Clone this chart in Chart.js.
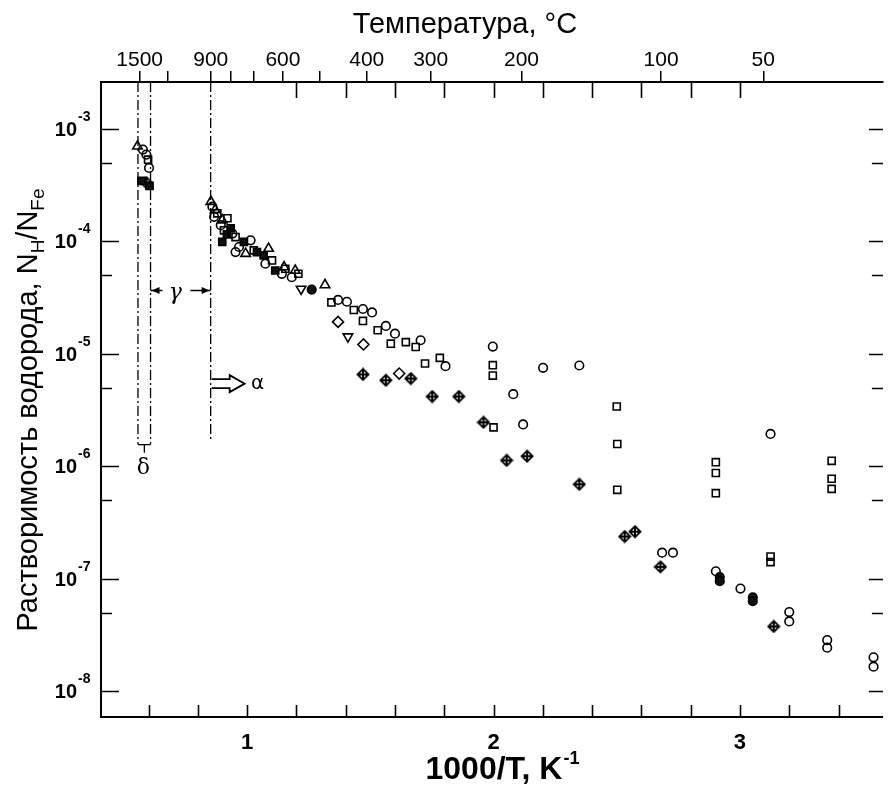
<!DOCTYPE html>
<html>
<head>
<meta charset="utf-8">
<script src="https://cdn.jsdelivr.net/npm/chart.js@4.4.1/dist/chart.umd.min.js"></script>
<style>
  html, body { margin: 0; padding: 0; background: #fff; }
  canvas { display: block; }
</style>
</head>
<body>
<canvas id="chart" width="890" height="785"></canvas>
<script>
// x = 1000/T (K^-1), y = N_H/N_Fe
const openCirclesX = [0.577, 0.591, 0.602, 0.859, 0.866, 0.893, 0.940, 0.967, 1.014, 0.953, 1.074, 1.141, 1.181,
  1.369, 1.405, 1.470, 1.507, 1.563, 1.600, 1.704, 1.805, 1.997, 2.201, 2.348, 2.080, 2.120, 2.684, 2.728,
  3.124, 2.902, 3.002, 3.200, 3.200, 3.354, 3.354, 3.542, 3.542];
const openCirclesY = [6.53e-4, 5.89e-4, 4.48e-4, 2.03e-4, 1.65e-4, 1.39e-4, 1.17e-4, 8.89e-5, 1.02e-4, 8.02e-5, 6.31e-5, 5.14e-5, 4.79e-5,
  3.01e-5, 2.90e-5, 2.50e-5, 2.33e-5, 1.77e-5, 1.51e-5, 1.32e-5, 7.76e-6, 1.16e-5, 7.50e-6, 7.87e-6, 4.38e-6, 2.36e-6, 1.71e-7, 1.71e-7,
  1.94e-6, 1.17e-7, 8.2e-8, 5.07e-8, 4.19e-8, 2.86e-8, 2.45e-8, 2.01e-8, 1.66e-8];

const openSquaresX = [0.598, 0.879, 0.920, 0.906, 0.953, 1.027, 1.101, 1.155, 1.208,
  1.342, 1.433, 1.470, 1.530, 1.583, 1.644, 1.684, 1.722, 1.782, 1.997, 1.997, 2.000,
  2.500, 2.502, 2.502, 2.902, 2.902, 2.902, 3.124, 3.124, 3.372, 3.372, 3.372];
const openSquaresY = [5.31e-4, 1.77e-4, 1.60e-4, 1.25e-4, 1.09e-4, 8.30e-5, 6.76e-5, 5.70e-5, 5.14e-5,
  2.86e-5, 2.45e-5, 1.96e-5, 1.62e-5, 1.23e-5, 1.27e-5, 1.15e-5, 8.2e-6, 9.2e-6, 7.93e-6, 6.41e-6, 2.22e-6,
  3.40e-6, 1.58e-6, 6.19e-7, 1.09e-6, 8.73e-7, 5.78e-7, 1.58e-7, 1.41e-7, 1.12e-6, 7.76e-7, 6.31e-7];

const filledSquaresX = [0.571, 0.604, 0.933, 0.899, 0.987, 1.067, 1.114, 0.918, 1.040];
const filledSquaresY = [3.44e-4, 3.10e-4, 1.30e-4, 9.86e-5, 9.86e-5, 7.49e-5, 5.50e-5, 1.15e-4, 8.0e-5];

const triUpX = [0.555, 0.853, 0.899, 0.994, 1.087, 1.195, 1.316, 0.870, 1.150];
const triUpY = [6.98e-4, 2.25e-4, 1.54e-4, 7.76e-5, 8.61e-5, 5.50e-5, 4.09e-5, 1.90e-4, 5.9e-5];

const triDownX = [1.219, 1.409];
const triDownY = [3.77e-5, 1.42e-5];

const openDiamondsX = [1.369, 1.472, 1.617];
const openDiamondsY = [1.92e-5, 1.21e-5, 6.68e-6];

const crossDiamondsX = [0.591, 1.470, 1.563, 1.664, 1.751, 1.859, 1.959, 2.053, 2.136, 2.348, 2.532, 2.574, 2.677, 3.137];
const crossDiamondsY = [3.32e-4, 6.55e-6, 5.82e-6, 6.03e-6, 4.17e-6, 4.17e-6, 2.46e-6, 1.13e-6, 1.23e-6, 6.92e-7, 2.38e-7, 2.63e-7, 1.28e-7, 3.78e-8];

const filledCirclesX = [1.262, 2.918, 2.918, 3.052, 3.052];
const filledCirclesY = [3.72e-5, 1.04e-7, 9.55e-8, 6.87e-8, 6.33e-8];

// phase boundaries: melting, delta/gamma, gamma/alpha
const phaseLineX = [0.557, 0.608, 0.852];
const phaseLineBottom = [1.56e-6, 1.56e-6, 1.69e-6];

// axes
const X_MIN = 0.407, X_MAX = 3.58;
const Y_MIN = 5.93e-9, Y_MAX = 2.6e-3;
const xBottomTicks = [0.6, 0.8, 1, 1.2, 1.4, 1.6, 1.8, 2, 2.2, 2.4, 2.6, 2.8, 3, 3.2, 3.4];
const xBottomLabels = ['', '', '1', '', '', '', '', '2', '', '', '', '', '3', '', ''];
const xTopInnerTicks = [1.2, 1.4, 1.6, 1.8, 2, 2.2, 2.4, 2.6, 2.8, 3];
const tempTicks = [1500, 1200, 900, 800, 700, 600, 500, 400, 300, 200, 100, 50];
const tempLabels = ['1500', '', '900', '', '', '600', '', '400', '300', '200', '100', '50'];
const yMajorTicks = [1e-8, 1e-7, 1e-6, 1e-5, 1e-4, 1e-3];
const yMajorExp = ['-8', '-7', '-6', '-5', '-4', '-3'];
const yMinorTicks = [5e-8, 5e-7, 5e-6, 5e-5, 5e-4];

// phase labels (data coords)
const gammaLabel = { x: 0.705, y: 3.7e-5 };
const alphaArrow = { x0: 0.852, x1: 0.990, y: 5.43e-6, labelX: 1.042 };
const deltaLabel = { x: 0.583, y: 1.0e-6, stubEnd: 1.32e-6 };

const FONT = '"Liberation Sans", Arial, sans-serif';

function pts(xs, ys) {
  return xs.map((x, i) => ({ x: x, y: ys[i] }));
}

// diamond with a cross inside
function crossDiamond() {
  const c = document.createElement('canvas');
  c.width = 14; c.height = 14;
  const g = c.getContext('2d');
  g.strokeStyle = '#000';
  g.lineWidth = 1.9;
  g.beginPath();
  g.moveTo(7, 1.5); g.lineTo(12.5, 7); g.lineTo(7, 12.5); g.lineTo(1.5, 7); g.closePath();
  g.moveTo(7, 1.5); g.lineTo(7, 12.5);
  g.moveTo(1.5, 7); g.lineTo(12.5, 7);
  g.stroke();
  return c;
}

function markers(label, xs, ys, style, extra) {
  return Object.assign({
    label: label,
    data: pts(xs, ys),
    pointStyle: style,
    pointRadius: 4.3,
    pointBorderWidth: 1.6,
    pointBorderColor: '#000',
    pointBackgroundColor: 'rgba(0,0,0,0)',
    showLine: false
  }, extra || {});
}

function guide(xs, ys, dash) {
  return {
    data: pts(xs, ys),
    showLine: true,
    pointRadius: 0,
    borderColor: '#000',
    borderWidth: 1.3,
    borderDash: dash,
    fill: false
  };
}

const datasets = [];
phaseLineX.forEach((px, i) => {
  datasets.push(guide([px, px], [Y_MAX, phaseLineBottom[i]], [10, 3, 2, 3]));
});
datasets.push(guide([phaseLineX[0], phaseLineX[1]], [phaseLineBottom[0], phaseLineBottom[1]], []));
datasets.push(guide([deltaLabel.x, deltaLabel.x], [phaseLineBottom[0], deltaLabel.stubEnd], []));

datasets.push(markers('circles', openCirclesX, openCirclesY, 'circle'));
datasets.push(markers('squares', openSquaresX, openSquaresY, 'rect', { pointRadius: 5 }));
datasets.push(markers('filled squares', filledSquaresX, filledSquaresY, 'rect', { pointRadius: 5, pointBackgroundColor: '#111' }));
datasets.push(markers('triangles', triUpX, triUpY, 'triangle', { pointRadius: 5.5 }));
datasets.push(markers('triangles down', triDownX, triDownY, 'triangle', { pointRadius: 5.5, pointRotation: 180 }));
datasets.push(markers('diamonds', openDiamondsX, openDiamondsY, 'rectRot', { pointRadius: 5.5 }));
datasets.push(markers('crossed diamonds', crossDiamondsX, crossDiamondsY, crossDiamond()));
datasets.push(markers('filled circles', filledCirclesX, filledCirclesY, 'circle', { pointBackgroundColor: '#111' }));

function arrowHead(ctx, x, y, dir) {
  ctx.beginPath();
  ctx.moveTo(x, y);
  ctx.lineTo(x - dir * 8, y - 3.5);
  ctx.lineTo(x - dir * 8, y + 3.5);
  ctx.closePath();
  ctx.fill();
}

const framePlugin = {
  id: 'frame',
  afterDraw(chart) {
    const { ctx, chartArea: a, scales } = chart;
    const x = scales.x, y = scales.y;
    ctx.save();
    ctx.strokeStyle = '#000';
    ctx.fillStyle = '#000';
    ctx.lineWidth = 1.6;

    // inward ticks
    ctx.beginPath();
    yMajorTicks.forEach(v => {
      const py = Math.round(y.getPixelForValue(v)) + 0.5;
      ctx.moveTo(a.left, py); ctx.lineTo(a.left + 18, py);
      ctx.moveTo(a.right, py); ctx.lineTo(a.right - 14, py);
    });
    yMinorTicks.forEach(v => {
      const py = Math.round(y.getPixelForValue(v)) + 0.5;
      ctx.moveTo(a.left, py); ctx.lineTo(a.left + 11, py);
      ctx.moveTo(a.right, py); ctx.lineTo(a.right - 11, py);
    });
    xBottomTicks.forEach(v => {
      const px = Math.round(x.getPixelForValue(v)) + 0.5;
      ctx.moveTo(px, a.bottom); ctx.lineTo(px, a.bottom - 12);
    });
    xTopInnerTicks.forEach(v => {
      const px = Math.round(x.getPixelForValue(v)) + 0.5;
      ctx.moveTo(px, a.top); ctx.lineTo(px, a.top + 16);
    });
    ctx.stroke();

    // y tick labels 10^n
    yMajorTicks.forEach((v, i) => {
      const py = y.getPixelForValue(v);
      ctx.font = 'bold 20px ' + FONT;
      ctx.textAlign = 'right';
      ctx.textBaseline = 'alphabetic';
      ctx.fillText('10', 77, py + 7);
      ctx.font = 'bold 14px ' + FONT;
      ctx.textAlign = 'left';
      ctx.fillText(yMajorExp[i], 78, py - 8);
    });

    // top title
    ctx.font = '29px ' + FONT;
    ctx.textAlign = 'center';
    ctx.fillText('Температура, °C', 465, 33);

    // bottom title with superscript
    ctx.font = 'bold 32px ' + FONT;
    const main = '1000/T, K';
    const mw = ctx.measureText(main).width;
    ctx.font = 'bold 18px ' + FONT;
    const sw = ctx.measureText('-1').width;
    const bx = 502 - (mw + sw) / 2;
    ctx.textAlign = 'left';
    ctx.font = 'bold 32px ' + FONT;
    ctx.fillText(main, bx, 779);
    ctx.font = 'bold 18px ' + FONT;
    ctx.fillText('-1', bx + mw + 1, 764);

    // y title, rotated, with subscripts
    const parts = [
      ['Растворимость водорода, N', 29, 0],
      ['H', 19, 7],
      ['/N', 29, 0],
      ['Fe', 19, 7]
    ];
    let total = 0;
    parts.forEach(p => { ctx.font = p[1] + 'px ' + FONT; total += ctx.measureText(p[0]).width; });
    ctx.save();
    ctx.translate(37, 410);
    ctx.rotate(-Math.PI / 2);
    let cx = -total / 2;
    parts.forEach(p => {
      ctx.font = p[1] + 'px ' + FONT;
      ctx.fillText(p[0], cx, p[2]);
      cx += ctx.measureText(p[0]).width;
    });
    ctx.restore();

    // gamma arrows between boundaries
    const g1 = x.getPixelForValue(phaseLineX[1]);
    const g2 = x.getPixelForValue(phaseLineX[2]);
    const gc = x.getPixelForValue(gammaLabel.x);
    const gy = Math.round(y.getPixelForValue(gammaLabel.y)) + 0.5;
    ctx.lineWidth = 1.3;
    ctx.beginPath();
    ctx.moveTo(g1, gy); ctx.lineTo(gc - 12, gy);
    ctx.moveTo(gc + 16, gy); ctx.lineTo(g2, gy);
    ctx.stroke();
    arrowHead(ctx, g1 + 1, gy, -1);
    arrowHead(ctx, g2 - 1, gy, 1);
    ctx.font = 'italic 22px "DejaVu Serif", serif';
    ctx.textAlign = 'center';
    ctx.textBaseline = 'middle';
    ctx.fillText('γ', gc + 1, gy + 3);

    // hollow alpha arrow
    const a0 = x.getPixelForValue(alphaArrow.x0) + 1;
    const a1 = x.getPixelForValue(alphaArrow.x1);
    const ay = y.getPixelForValue(alphaArrow.y);
    const hb = a1 - 15;
    ctx.lineWidth = 1.8;
    ctx.beginPath();
    ctx.moveTo(a0, ay - 4.5);
    ctx.lineTo(hb, ay - 4.5);
    ctx.lineTo(hb, ay - 8.5);
    ctx.lineTo(a1, ay);
    ctx.lineTo(hb, ay + 8.5);
    ctx.lineTo(hb, ay + 4.5);
    ctx.lineTo(a0, ay + 4.5);
    ctx.stroke();
    ctx.font = '20px "DejaVu Sans", sans-serif';
    ctx.fillText('α', x.getPixelForValue(alphaArrow.labelX), ay);

    // delta
    ctx.font = '22px "DejaVu Serif", serif';
    ctx.fillText('δ', x.getPixelForValue(deltaLabel.x) - 1, y.getPixelForValue(deltaLabel.y) + 2);

    ctx.restore();
  }
};

const chart = new Chart(document.getElementById('chart'), {
  type: 'scatter',
  data: { datasets: datasets },
  options: {
    responsive: false,
    animation: false,
    layout: { padding: 0 },
    plugins: { legend: { display: false }, tooltip: { enabled: false } },
    scales: {
      x: {
        type: 'linear',
        position: 'bottom',
        min: X_MIN,
        max: X_MAX,
        afterBuildTicks: s => { s.ticks = xBottomTicks.map(v => ({ value: v })); },
        afterFit: s => { s.height = 68; },
        ticks: {
          autoSkip: false,
          maxRotation: 0,
          padding: 13,
          color: '#000',
          font: { family: FONT, size: 22, weight: 'bold' },
          callback: (v, i) => xBottomLabels[i]
        },
        grid: { display: false, drawTicks: false },
        border: { display: true, color: '#000', width: 2 }
      },
      xTop: {
        type: 'linear',
        position: 'top',
        min: X_MIN,
        max: X_MAX,
        afterBuildTicks: s => { s.ticks = tempTicks.map(t => ({ value: 1000 / (t + 273.15) })); },
        afterFit: s => { s.height = 82; },
        ticks: {
          autoSkip: false,
          maxRotation: 0,
          padding: -2,
          color: '#000',
          font: { family: FONT, size: 21 },
          callback: (v, i) => tempLabels[i]
        },
        grid: { display: true, drawOnChartArea: false, drawTicks: true, tickLength: 11, color: '#000', lineWidth: 1.5 },
        border: { display: true, color: '#000', width: 2 }
      },
      y: {
        type: 'logarithmic',
        position: 'left',
        min: Y_MIN,
        max: Y_MAX,
        afterFit: s => { s.width = 101; },
        ticks: { display: false },
        grid: { display: false, drawTicks: false },
        border: { display: true, color: '#000', width: 2 }
      }
    }
  },
  plugins: [framePlugin]
});
</script>
</body>
</html>
